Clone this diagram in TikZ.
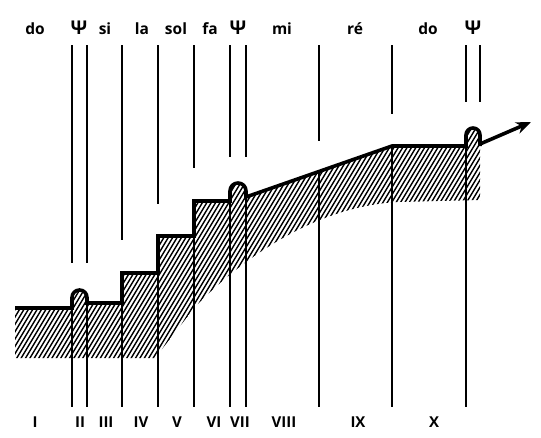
\documentclass[tikz,border=0pt]{standalone}
\usepackage{fontspec}
\setmainfont{Open Sans}
\usetikzlibrary{arrows.meta}

\newcommand{\stairprofile}{(15,308) -- (72,308) -- (72,297.5)
  arc[start angle=180, end angle=360, radius=7.5] -- (87,303) -- (122,303)
  -- (122,273) -- (158,273) -- (158,236) -- (194,236) -- (194,201) -- (230,201)
  -- (230,191) arc[start angle=180, end angle=360, radius=8] -- (246,197)
  -- (392,146) -- (466,146) -- (466,135)
  arc[start angle=180, end angle=360, radius=7] -- (480,146)}
\newcommand{\psisign}{{\fontsize{19}{20}\selectfont Ψ}}

\begin{document}
\begin{tikzpicture}[%Scale picture
  x=1pt, y=-1pt,
  labelnode/.style={font=\fontsize{15.5}{18}\selectfont\bfseries, anchor=base, inner sep=0pt},
  romannode/.style={font=\fontsize{15}{17}\selectfont\bfseries, anchor=base, inner sep=0pt},
  guide/.style={line width=1.4pt},
  profile/.style={line width=3.6pt, line join=miter},
  hatchline/.style={line width=1.4pt}
]
\useasboundingbox (0,0) rectangle (541,437);

%Hatching
\begin{scope}
  \clip \stairprofile -- (480,200) -- (400,202)
    .. controls (320,205) and (245,255) .. (195,307) -- (155,358) -- (15,358) -- cycle;
  \foreach \i in {-180,-175.6,...,480}
    \draw[hatchline] (\i,400) -- ++(240,-400);
\end{scope}

%Guide lines
\foreach \x/\e in {72/263, 87/263, 122/240, 158/204, 194/168, 230/157, 246/157,
                   319/141, 392/114, 466/102, 480/102}
  \draw[guide] (\x,45) -- (\x,\e);
\foreach \x/\s in {72/298, 87/298, 122/273, 158/236, 194/201, 230/191, 246/191,
                   319/172, 392/146, 466/135}
  \draw[guide] (\x,\s) -- (\x,407);

%Profile and arrow
\coordinate (arrowstart) at (480,144);
\coordinate (arrowtip) at (531,122);
\draw[profile] \stairprofile;
\draw[profile, -{Stealth[length=15pt, width=12pt]}] (arrowstart) -- (arrowtip);

%Labels
\foreach \x/\t [count=\k] in {35/do, 79/\psisign, 105/si, 142/la, 176/sol, 210/fa,
                              238/\psisign, 282/mi, 355/ré, 428/do, 473/\psisign}
  \node[labelnode] (note\k) at (\x,34.5) {\t};
\foreach \x/\t [count=\k] in {35/I, 80/II, 106/III, 141/IV, 177/V, 214/VI,
                              240/VII, 284/VIII, 358/IX, 434/X}
  \node[romannode] (zone\k) at (\x,427) {\t};
\end{tikzpicture}
\end{document}
